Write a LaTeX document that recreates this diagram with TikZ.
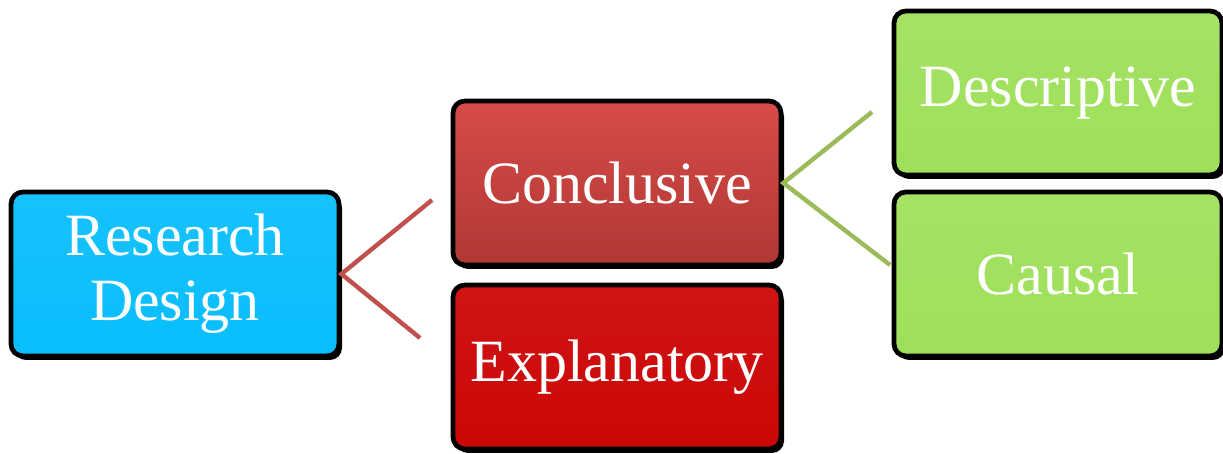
\documentclass[tikz,border=0pt]{standalone}
\usepackage{fontspec}
\setmainfont{Liberation Serif}
\usetikzlibrary{positioning,shadows}

\definecolor{designblue}{RGB}{8,190,252}
\definecolor{conclred}{RGB}{214,68,64}
\definecolor{explred}{RGB}{204,6,6}
\definecolor{typegreen}{RGB}{158,224,90}
\definecolor{linkred}{RGB}{192,80,77}
\definecolor{linkgreen}{RGB}{155,187,89}

\begin{document}
\begin{tikzpicture}[x=0.5pt, y=-0.5pt,
    box/.style={draw=black, line width=2.4pt, rounded corners=6pt,
        minimum width=164pt, minimum height=82pt, inner sep=0pt,
        align=center, text=white, font=\fontsize{30}{31.5}\selectfont,
        drop shadow={opacity=1, fill=black, shadow xshift=1.5pt, shadow yshift=-2pt}},
    link/.style={line width=2.2pt}]
    \useasboundingbox (0,0) rectangle (1223,454);

    \node[box, top color=designblue!94!white, bottom color=designblue] (design) at (175,274) {Research\\[1pt]Design};
    \node[box, top color=conclred!96!white, middle color=conclred, bottom color=conclred!82!black] (conclusive) at (617,183) {Conclusive};
    \node[box, top color=explred!94!white, bottom color=explred] (explanatory) at (617,367) {Explanatory};
    \node[box, top color=typegreen!94!white, bottom color=typegreen] (descriptive) at (1058,93) {Descriptive};
    \node[box, top color=typegreen!94!white, bottom color=typegreen] (causal) at (1058,274) {Causal};

    % free ends of the branches
    \coordinate (upred) at (432,200);
    \coordinate (downred) at (420,338);
    \coordinate (upgreen) at (872,112);
    \coordinate (downgreen) at (890,265);

    \draw[link, linkred] (upred) -- (design.east) -- (downred);
    \draw[link, linkgreen] (upgreen) -- (conclusive.east) -- (downgreen);
\end{tikzpicture}
\end{document}
